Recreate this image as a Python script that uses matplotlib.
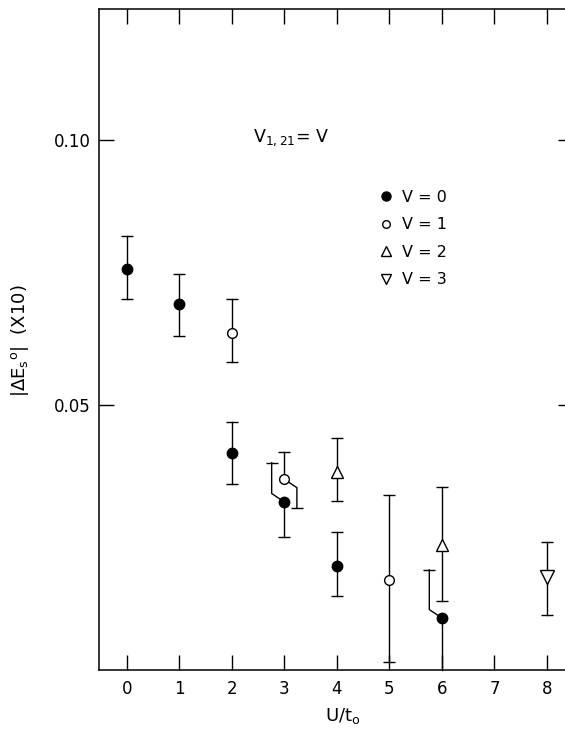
"""|dE_s0| vs U/t0 scatter with error bars"""

import matplotlib

matplotlib.use("Agg")

import matplotlib.pyplot as plt
from matplotlib.lines import Line2D

plt.rcParams["font.family"] = ["DejaVu Sans"]
plt.rcParams["mathtext.fontset"] = "dejavusans"

# V = 0 (filled circles)
v0_x = [0, 1, 2, 3, 4, 6]
v0_y = [0.0756, 0.0690, 0.0410, 0.0317, 0.0197, 0.0098]
v0_hi = [0.0819, 0.0748, 0.0468, 0.0391, 0.0260, 0.0189]
v0_lo = [0.0699, 0.0630, 0.0350, 0.0250, 0.0140, 0.0]

# V = 1 (open circles)
v1_x = [2, 3, 5]
v1_y = [0.0636, 0.0360, 0.0169]
v1_hi = [0.0699, 0.0411, 0.0330]
v1_lo = [0.0581, 0.0306, 0.0016]

# V = 2 (open triangles up)
v2_x = [4, 6]
v2_y = [0.0373, 0.0236]
v2_hi = [0.0437, 0.0346]
v2_lo = [0.0318, 0.0130]

# V = 3 (open triangle down)
v3_x = [8]
v3_y = [0.0175]
v3_hi = [0.0242]
v3_lo = [0.0104]

# sideways shift of error-bar branches that overlap (upper, lower)
v0_up_dx = [0, 0, 0, -0.24, 0, -0.24]
v0_lo_dx = [0, 0, 0, 0, 0, 0]
v1_up_dx = [0, 0, 0]
v1_lo_dx = [0, 0.24, 0]

x_ticks = [0, 1, 2, 3, 4, 5, 6, 7, 8]
y_ticks = [0.05, 0.10]

LW = 1.0
KINK = 0.0016


def draw_bars(ax, xs, ys, los, his, up_dx=None, lo_dx=None):
    """竖直误差棒, 重叠处折线偏移"""
    up_dx = up_dx or [0] * len(xs)
    lo_dx = lo_dx or [0] * len(xs)
    for x, y, lo, hi, du, dl in zip(xs, ys, los, his, up_dx, lo_dx):
        for end, dx, sgn in ((hi, du, 1), (lo, dl, -1)):
            if dx:
                px = [x, x + dx, x + dx]
                py = [y, y + sgn * KINK, end]
            else:
                px = [x, x]
                py = [y, end]
            ax.plot(px, py, color="black", lw=LW, zorder=2, clip_on=False)
            if end > 0:
                ax.plot([x + dx], [end], marker="_", ms=8, mew=LW,
                        color="black", zorder=2)


fig = plt.figure(figsize=(5.65, 7.31), dpi=100)
ax = fig.add_axes([99.3 / 565, 61 / 731, 474 / 565, 661 / 731])

draw_bars(ax, v0_x, v0_y, v0_lo, v0_hi, v0_up_dx, v0_lo_dx)
draw_bars(ax, v1_x, v1_y, v1_lo, v1_hi, v1_up_dx, v1_lo_dx)
draw_bars(ax, v2_x, v2_y, v2_lo, v2_hi)
draw_bars(ax, v3_x, v3_y, v3_lo, v3_hi)

ax.plot(v0_x, v0_y, "o", ms=7.5, mfc="black", mec="black", ls="none", zorder=3)
ax.plot(v1_x, v1_y, "o", ms=7, mfc="white", mec="black", mew=LW, ls="none", zorder=3)
ax.plot(v2_x, v2_y, "^", ms=8.5, mfc="white", mec="black", mew=LW, ls="none", zorder=3)
ax.plot(v3_x, v3_y, "v", ms=9.5, mfc="white", mec="black", mew=LW, ls="none", zorder=3)

ax.set_xlim(-0.52, 8.5)
ax.set_ylim(0, 0.1247)
ax.set_xticks(x_ticks)
ax.set_xticklabels([str(t) for t in x_ticks])
ax.set_yticks(y_ticks)
ax.set_yticklabels(["0.05", "0.10"])
ax.tick_params(direction="in", length=11, width=LW, labelsize=12,
               top=True, right=True)
ax.tick_params(axis="x", pad=7)
ax.tick_params(axis="y", pad=6)
for s in ax.spines.values():
    s.set_linewidth(1.1)

handles = [
    Line2D([], [], marker="o", ls="none", ms=6.5, mfc="black", mec="black"),
    Line2D([], [], marker="o", ls="none", ms=5.5, mfc="white", mec="black", mew=LW),
    Line2D([], [], marker="^", ls="none", ms=6.5, mfc="white", mec="black", mew=LW),
    Line2D([], [], marker="v", ls="none", ms=7, mfc="white", mec="black", mew=LW),
]
labels = ["V = 0", "V = 1", "V = 2", "V = 3"]
ax.legend(handles, labels, loc="upper left",
          bbox_to_anchor=(379 / 565, 1 - 190 / 731),
          bbox_transform=fig.transFigure, frameon=False, fontsize=11.5,
          borderpad=0, borderaxespad=0, handlelength=0.85,
          handletextpad=0.6, labelspacing=0.78)

fig.text(252.7 / 565, 1 - 142 / 731, r"V$_{1,21}$= V", fontsize=12.5,
         ha="left", va="baseline")
fig.text(343 / 565, 1 - 716 / 731, r"U/t$_{\mathrm{o}}$", fontsize=13,
         ha="center", va="center")
fig.text(20 / 565, 1 - 341 / 731, r"|$\Delta$E$_{\mathrm{s}}$$^{\mathrm{o}}$|  (X10)",
         fontsize=13, rotation=90, ha="center", va="center")

fig.savefig("out.png", dpi=100, facecolor="white")
plt.close(fig)
